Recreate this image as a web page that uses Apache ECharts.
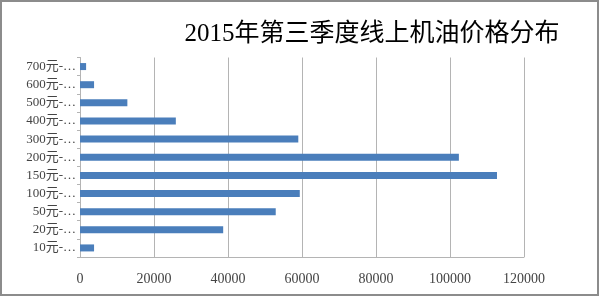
<!DOCTYPE html>
<html><head><meta charset="utf-8">
<script src="https://cdn.jsdelivr.net/npm/echarts@6/dist/echarts.min.js"></script>
<style>html,body{margin:0;padding:0;background:#fff}#c{width:600px;height:297px}</style>
</head><body><div id="c"></div>
<script>
const titleText = "2015年第三季度线上机油价格分布";
const categories = ["10元-…","20元-…","50元-…","100元-…","150元-…","200元-…","300元-…","400元-…","500元-…","600元-…","700元-…"];
const values = [3800, 38700, 52900, 59400, 112700, 102400, 59000, 25900, 12800, 3800, 1650];
const xTicks = [0, 20000, 40000, 60000, 80000, 100000, 120000];

const chart = echarts.init(document.getElementById('c'), null, {renderer: 'canvas'});
chart.setOption({
  animation: false,
  backgroundColor: '#fff',
  title: {
    text: titleText, left: 367, top: 17, textAlign: 'center',
    textStyle: {fontFamily: '"Liberation Serif","Noto Sans CJK SC",serif', fontSize: 25, fontWeight: 'normal', color: '#000'}
  },
  graphic: [{
    type: 'rect', shape: {x: 1, y: 1, width: 597, height: 294},
    style: {fill: 'none', stroke: '#8c8c8c', lineWidth: 2}, silent: true
  }],
  grid: {left: 80, right: 76, top: 57.5, bottom: 40, containLabel: false},
  xAxis: {
    type: 'value', min: xTicks[0], max: xTicks[xTicks.length - 1], interval: xTicks[1] - xTicks[0],
    axisLine: {show: true, onZero: false, lineStyle: {color: '#b4b4b4'}}, axisTick: {show: false},
    splitLine: {show: true, lineStyle: {color: '#b4b4b4', width: 1}},
    axisLabel: {margin: 15, color: '#444', fontSize: 14, formatter: v => String(v),
      fontFamily: '"Liberation Serif","Noto Sans CJK SC",serif'}
  },
  yAxis: {
    type: 'category', data: categories,
    axisLine: {show: true, lineStyle: {color: '#b4b4b4'}},
    axisTick: {show: true, length: 3, lineStyle: {color: '#b4b4b4'}},
    axisLabel: {margin: 4, color: '#444', fontSize: 13, fontFamily: '"Liberation Serif","Noto Sans CJK SC",serif'}
  },
  series: [{
    type: 'bar', data: values, barWidth: 7,
    itemStyle: {color: '#4a7ebb'}
  }]
});
</script></body></html>
